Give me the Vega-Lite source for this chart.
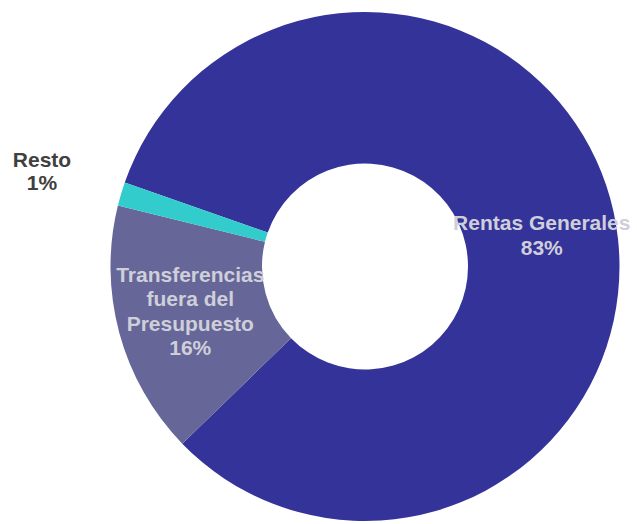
{
  "$schema": "https://vega.github.io/schema/vega-lite/v6.json",
  "width": 514,
  "height": 509,
  "autosize": "none",
  "padding": {"left": 108, "right": 15, "top": 12, "bottom": 3},
  "background": "white",
  "config": {"view": {"stroke": null}},
  "data": {
    "values": [
      {"categoria": "Rentas Generales", "valor": 82.4, "etiqueta": "Rentas Generales\n83%"},
      {"categoria": "Transferencias fuera del Presupuesto", "valor": 16.1, "etiqueta": "Transferencias\nfuera del\nPresupuesto\n16%"},
      {"categoria": "Resto", "valor": 1.5, "etiqueta": "Resto\n1%"}
    ]
  },
  "encoding": {
    "theta": {"field": "valor", "type": "quantitative", "stack": true, "scale": {"range": [-1.2348, 5.0484]}},
    "order": {"field": "valor", "sort": "descending"}
  },
  "layer": [
    {
      "mark": {"type": "arc", "innerRadius": 103, "strokeWidth": 0},
      "encoding": {
        "color": {
          "field": "categoria",
          "type": "nominal",
          "scale": {
            "domain": ["Rentas Generales", "Transferencias fuera del Presupuesto", "Resto"],
            "range": ["#333399", "#666699", "#33CCCC"]
          },
          "legend": null
        }
      }
    },
    {
      "mark": {"type": "text", "radius": 181, "dy": -3.5, "font": "Liberation Sans", "fontSize": 21, "fontWeight": "bold", "fill": "#cfcfd9", "align": "center", "baseline": "middle", "lineBreak": "\n", "lineHeight": 25},
      "encoding": {
        "text": {"condition": {"test": "datum.categoria !== 'Rentas Generales'", "value": ""}, "field": "etiqueta", "type": "nominal"}
      }
    },
    {
      "mark": {"type": "text", "radius": 181, "dy": -38, "font": "Liberation Sans", "fontSize": 21, "fontWeight": "bold", "fill": "#cfcfd9", "align": "center", "baseline": "middle", "lineBreak": "\n", "lineHeight": 24.5},
      "encoding": {
        "text": {"condition": {"test": "datum.categoria !== 'Transferencias fuera del Presupuesto'", "value": ""}, "field": "etiqueta", "type": "nominal"}
      }
    },
    {
      "mark": {"type": "text", "radius": 337, "dy": -9, "font": "Liberation Sans", "fontSize": 21, "fontWeight": "bold", "fill": "#404040", "align": "center", "baseline": "middle", "lineBreak": "\n", "lineHeight": 22.5},
      "encoding": {
        "text": {"condition": {"test": "datum.categoria !== 'Resto'", "value": ""}, "field": "etiqueta", "type": "nominal"}
      }
    }
  ]
}
